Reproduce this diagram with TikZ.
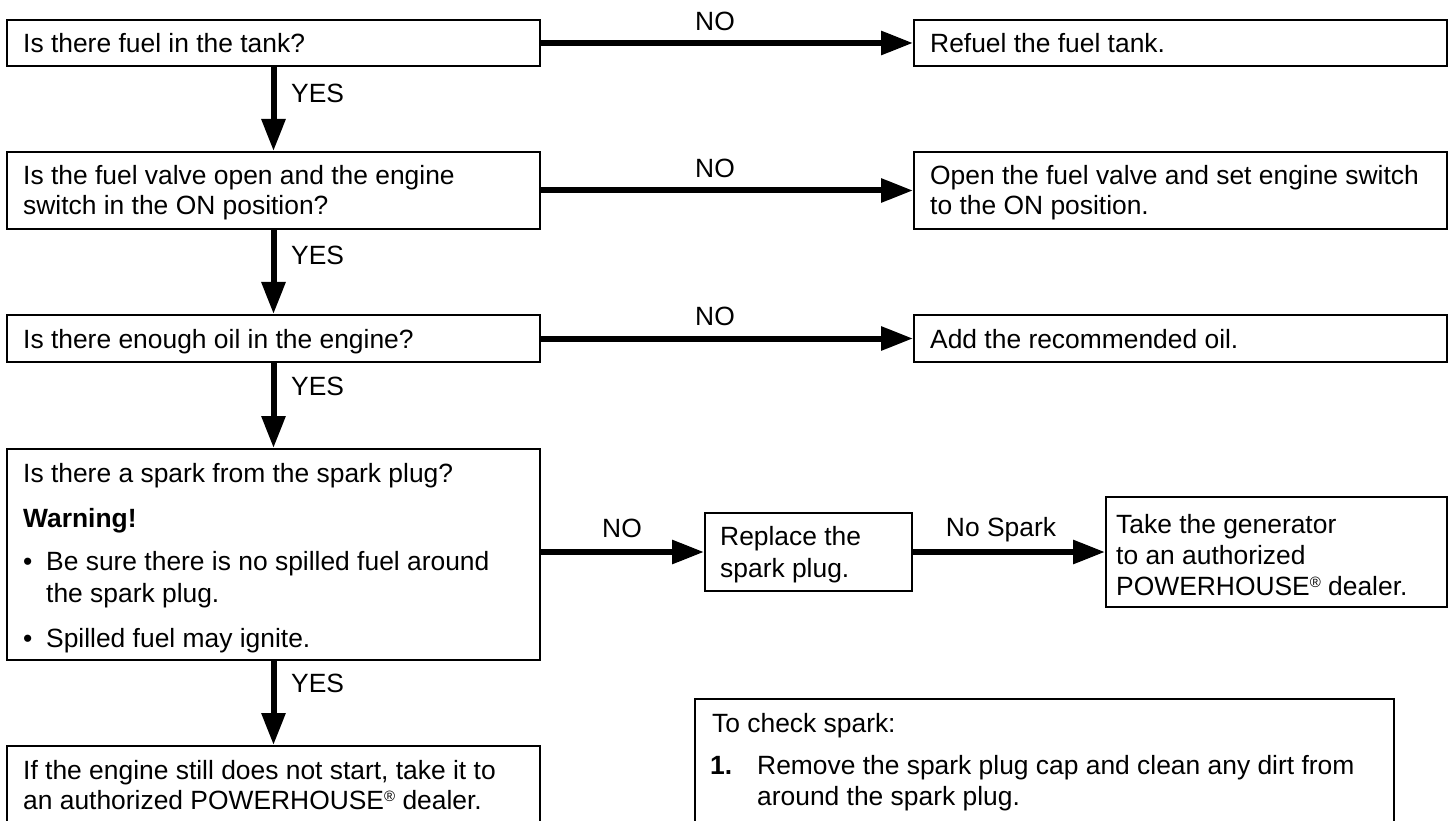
\documentclass[tikz,border=0pt]{standalone}
\usepackage{fontspec}
\setmainfont{Liberation Sans}
\usetikzlibrary{arrows.meta}
\newcommand{\regmark}{\raisebox{8pt}{\fontsize{15}{15}\selectfont ®}}
\begin{document}
\begin{tikzpicture}[x=1pt,y=-1pt,
  box/.style={draw, line width=2pt, rectangle, inner sep=0pt},
  flow/.style={line width=6pt, -{Triangle[length=32pt,width=23pt]}},
  txt/.style={anchor=base west, inner sep=0pt, font=\fontsize{26.4}{32}\selectfont},
  lbl/.style={anchor=base, inner sep=0pt, font=\fontsize{26.4}{32}\selectfont}]
\clip (0,0) rectangle (1452,821);
\fill[white] (0,0) rectangle (1452,821);
% boxes
\node[box, minimum width=533pt, minimum height=46pt] (q1) at (273.5,43) {};
\node[box, minimum width=533pt, minimum height=46pt] (a1) at (1180.5,43) {};
\node[box, minimum width=533pt, minimum height=77pt] (q2) at (273.5,190.5) {};
\node[box, minimum width=533pt, minimum height=77pt] (a2) at (1180.5,190.5) {};
\node[box, minimum width=533pt, minimum height=47pt] (q3) at (273.5,338.5) {};
\node[box, minimum width=533pt, minimum height=47pt] (a3) at (1180.5,338.5) {};
\node[box, minimum width=533pt, minimum height=211pt] (q4) at (273.5,554.5) {};
\node[box, minimum width=207pt, minimum height=78pt] (rep) at (808.5,552) {};
\node[box, minimum width=341pt, minimum height=110pt] (take) at (1276.5,552) {};
\node[box, minimum width=533pt, minimum height=124pt] (q5) at (273.5,808) {};
\node[box, minimum width=699pt, minimum height=181pt] (chk) at (1044.5,789.5) {};
% texts
\node[txt] (t1) at (23,53) {Is there fuel in the tank?};
\node[txt] (t2) at (930,53) {Refuel the fuel tank.};
\node[txt] (t3) at (23,185) {Is the fuel valve open and the engine};
\node[txt] (t4) at (23,215) {switch in the ON position?};
\node[txt] (t5) at (930,185) {Open the fuel valve and set engine switch};
\node[txt] (t6) at (930,215) {to the ON position.};
\node[txt] (t7) at (23,348) {Is there enough oil in the engine?};
\node[txt] (t8) at (930,348) {Add the recommended oil.};
\node[txt] (t9) at (23,482) {Is there a spark from the spark plug?};
\node[txt] (t10) at (23,527) {\bfseries Warning!};
\node[txt] (b1) at (23,570) {•};
\node[txt] (t11) at (46,570) {Be sure there is no spilled fuel around};
\node[txt] (t12) at (46,602) {the spark plug.};
\node[txt] (b2) at (23,647) {•};
\node[txt] (t13) at (46,647) {Spilled fuel may ignite.};
\node[txt] (t14) at (720,545) {Replace the};
\node[txt] (t15) at (720,577) {spark plug.};
\node[txt] (t16) at (1116,533) {Take the generator};
\node[txt] (t17) at (1116,564) {to an authorized};
\node[txt] (t18) at (1116,595) {POWERHOUSE\regmark{} dealer.};
\node[txt] (t19) at (23,779) {If the engine still does not start, take it to};
\node[txt] (t20) at (23,809) {an authorized POWERHOUSE\regmark{} dealer.};
\node[txt] (t21) at (712,732) {To check spark:};
\node[txt] (t22) at (710,774) {\bfseries 1.};
\node[txt] (t23) at (757,774) {Remove the spark plug cap and clean any dirt from};
\node[txt] (t24) at (757,805) {around the spark plug.};
% connectors
\draw[flow] (q1.south) -- (q2.north);
\draw[flow] (q2.south) -- (q3.north);
\draw[flow] (q3.south) -- (q4.north);
\draw[flow] (q4.south) -- (q5.north);
\draw[flow] (q1.east) -- (a1.west);
\draw[flow] (q2.east) -- (a2.west);
\draw[flow] (q3.east) -- (a3.west);
\draw[flow] (q4.east |- rep.west) -- (rep.west);
\draw[flow] (rep.east) -- (take.west);
% labels
\node[txt] (y1) at (291,102.5) {YES};
\node[txt] (y2) at (291,265) {YES};
\node[txt] (y3) at (291,395) {YES};
\node[txt] (y4) at (291,692) {YES};
\node[lbl] (n1) at (715,30.5) {NO};
\node[lbl] (n2) at (715,177.5) {NO};
\node[lbl] (n3) at (715,325.5) {NO};
\node[lbl] (n4) at (622,537.5) {NO};
\node[lbl] (n5) at (1001,536.5) {No Spark};
\end{tikzpicture}
\end{document}
